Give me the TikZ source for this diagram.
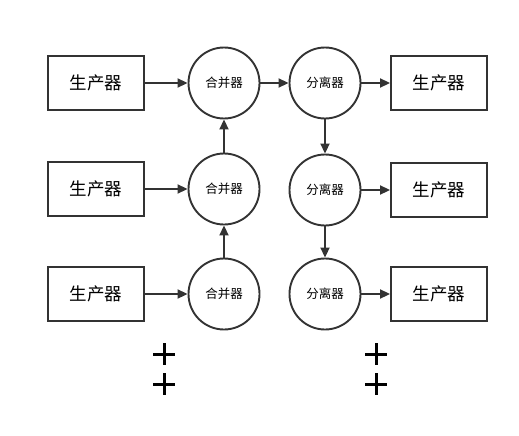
\documentclass[tikz,border=0pt]{standalone}
\usepackage{fontspec}
\setmainfont{Noto Sans CJK SC}
\usetikzlibrary{arrows.meta}
\usetikzlibrary{positioning}
\definecolor{linegray}{HTML}{333333}
\tikzset{
	prodbox/.style={draw=linegray, line width=1.9pt, minimum width=96pt, minimum height=54pt, inner sep=0pt, font=\fontsize{17.5}{17.5}\selectfont},
	unitcirc/.style={draw=linegray, line width=1.9pt, circle, minimum size=71pt, inner sep=0pt, font=\fontsize{12.5}{12.5}\selectfont},
	flow/.style={-{Triangle[length=10pt, width=9pt]}, line width=1.9pt, draw=linegray},
	plusmark/.style={line width=3pt, draw=black}
}
\begin{document}
\begin{tikzpicture}[x=1pt, y=-1pt]
	\useasboundingbox (0,0) rectangle (519,436);
	\node[prodbox] (src1) at (96,83) {生产器};
	\node[prodbox] (src2) at (96,189) {生产器};
	\node[prodbox] (src3) at (96,294) {生产器};
	\node[unitcirc] (merge1) at (224,83) {合并器};
	\node[unitcirc] (merge2) at (224,189) {合并器};
	\node[unitcirc] (merge3) at (224,294) {合并器};
	\node[unitcirc] (split1) at (325,83) {分离器};
	\node[unitcirc] (split2) at (325,190) {分离器};
	\node[unitcirc] (split3) at (325,294) {分离器};
	\node[prodbox] (dst1) at (439,83) {生产器};
	\node[prodbox] (dst2) at (439,190) {生产器};
	\node[prodbox] (dst3) at (439,294) {生产器};
	\draw[flow] (src1) -- (merge1);
	\draw[flow] (src2) -- (merge2);
	\draw[flow] (src3) -- (merge3);
	\draw[flow] (merge3) -- (merge2);
	\draw[flow] (merge2) -- (merge1);
	\draw[flow] (merge1) -- (split1);
	\draw[flow] (split1) -- (split2);
	\draw[flow] (split2) -- (split3);
	\draw[flow] (split1) -- (dst1);
	\draw[flow] (split2) -- (dst2);
	\draw[flow] (split3) -- (dst3);
	\foreach \px in {164,376}
		\foreach \py in {354,384}
			\draw[plusmark] (\px-11,\py) -- ++(22,0) (\px,\py-11) -- ++(0,22);
\end{tikzpicture}
\end{document}
